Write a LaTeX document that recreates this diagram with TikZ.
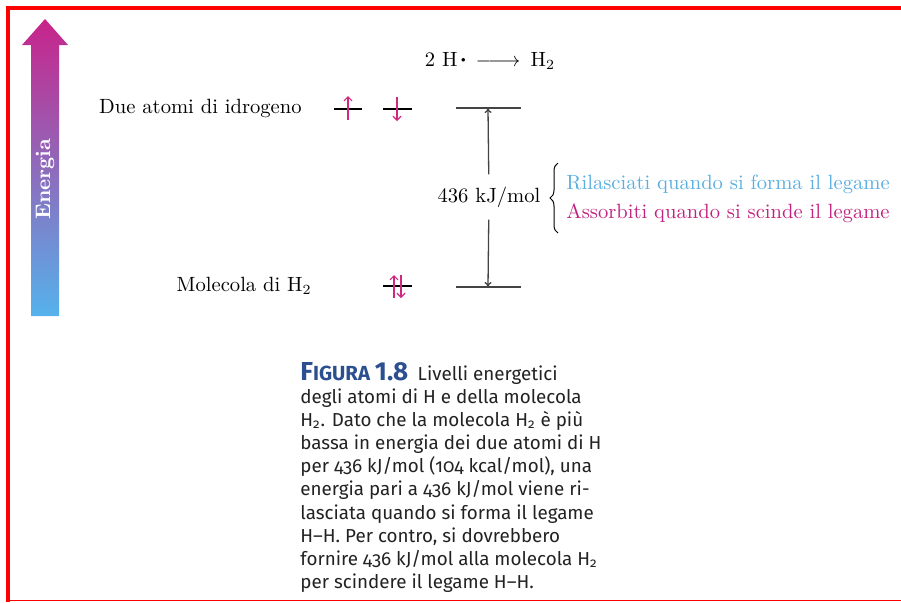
\documentclass[tikz,border=0pt]{standalone}
\usepackage{fontspec}
\newfontfamily\capfont[Numbers=OldStyle,Ligatures=TeX]{Fira Sans}
\usetikzlibrary{positioning,arrows.meta,decorations.pathreplacing}
\definecolor{framered}{HTML}{FF0000}
\definecolor{spinmag}{HTML}{D0287F}
\definecolor{relblue}{HTML}{5AAEE0}
\definecolor{absmag}{HTML}{C0237F}
\definecolor{levelgrey}{HTML}{444444}
\definecolor{figblue}{HTML}{2B4F8F}
\definecolor{captext}{HTML}{222222}
\definecolor{entop}{HTML}{C8238A}
\definecolor{enbot}{HTML}{55B2EC}
\tikzset{
  lvl/.style={line width=0.6pt, draw=levelgrey},
  orb/.style={line width=0.9pt, draw=black},
  spin/.style={-{Straight Barb[length=2pt,width=4pt]}, line width=0.6pt, draw=spinmag},
  gap/.style={-{To[length=2.5pt,width=3.5pt]}, line width=0.65pt, draw=levelgrey},
  lbl/.style={font=\fontsize{10.3}{12}\selectfont, inner sep=0pt},
}

\begin{document}
\begin{tikzpicture}[x=0.5pt, y=-0.5pt]
  \useasboundingbox (0,0) rectangle (901,602);
  % frame
  \draw[framered, line width=2pt] (8,602) -- (8,8) -- (901,8);
  \draw[framered, line width=0.6pt] (8,600.5) -- (901,600.5);

  % energy axis
  \shade[top color=entop, bottom color=enbot]
    (31,316) -- (31,45) -- (22,45) -- (45,19) -- (68,45) -- (59,45) -- (59,316) -- cycle;
  \node[rotate=90, text=white, font=\bfseries\fontsize{10.5}{12}\selectfont] (en) at (45,179) {Energia};

  \node[lbl, anchor=base] (reac) at (490,66)
    {2 H\,\raisebox{0.4ex}{\scalebox{0.45}{$\bullet$}}\enspace$\relbar\joinrel\relbar\joinrel\rightarrow$\enspace H$_2$};
  \node[lbl, anchor=base east] (atoms) at (302,113) {Due atomi di idrogeno};
  \node[lbl, anchor=base east] (mol) at (312,291) {Molecola di H$_2$};

  % orbitals and spins
  \draw[orb] (334,109) -- (362,109);
  \draw[orb] (383,109) -- (412,109);
  \draw[orb] (383,286) -- (412,286);
  \draw[spin] (348,120) -- (348,96);
  \draw[spin] (397,97) -- (397,121);
  \draw[spin] (394,298) -- (394,275);
  \draw[spin] (401,275) -- (401,298);

  % levels
  \coordinate (ut) at (488,108);
  \coordinate (lt) at (488,287);
  \draw[lvl] (456,108) -- (521,108);
  \draw[lvl] (456,287) -- (521,287);
  \node[lbl, fill=white, inner xsep=1pt, inner ysep=6pt] (dE) at (489,197) {436 kJ/mol};
  \draw[gap] (dE) -- (ut);
  \draw[gap] (dE) -- (lt);

  \coordinate (br1) at (558,233);
  \coordinate (br2) at (558,163);
  \draw[decorate, decoration={brace, amplitude=4pt}, line width=0.5pt] (br1) -- (br2);
  \node[lbl, text=relblue, anchor=base west] (rel) at (566,189) {Rilasciati quando si forma il legame};
  \node[lbl, text=absmag, anchor=base west] (abs) at (566,218) {Assorbiti quando si scinde il legame};

  % caption
  \node[anchor=north west, align=left, inner sep=0pt, text=captext,
        font=\capfont\fontsize{9.4}{11.55}\selectfont] (cap) at (300,362)
    {{\color{figblue}\bfseries\addfontfeatures{Numbers=Lining}\fontsize{13}{11.55}\selectfont F\fontsize{10.2}{11.55}\selectfont IGURA \fontsize{13}{11.55}\selectfont 1.8}\enspace Livelli energetici\\
     degli atomi di H e della molecola\\
     H\textsubscript{2}. Dato che la molecola H\textsubscript{2} è più\\
     bassa in energia dei due atomi di H\\
     per 436 kJ/mol (104 kcal/mol), una\\
     energia pari a 436 kJ/mol viene ri-\\
     lasciata quando si forma il legame\\
     H\textendash H. Per contro, si dovrebbero\\
     fornire 436 kJ/mol alla molecola H\textsubscript{2}\\
     per scindere il legame H\textendash H.};
\end{tikzpicture}
\end{document}
